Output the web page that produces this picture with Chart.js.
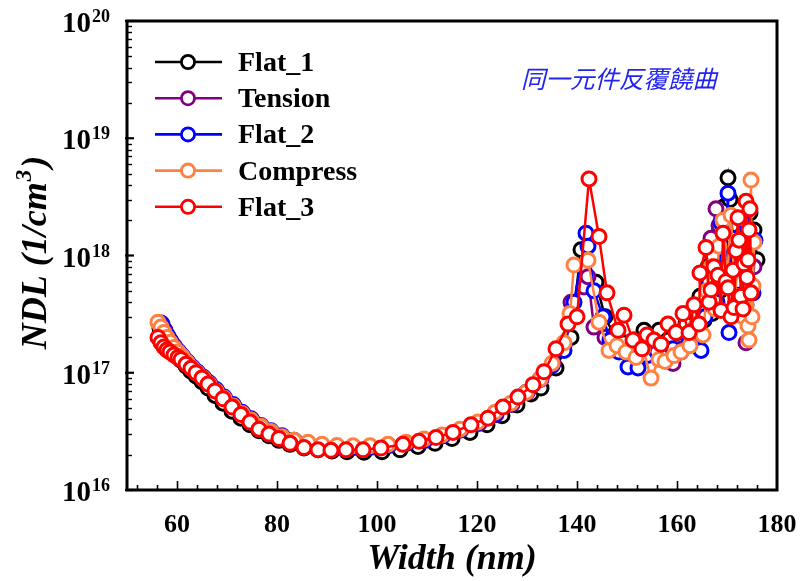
<!DOCTYPE html>
<html>
<head>
<meta charset="utf-8">
<script src="https://cdn.jsdelivr.net/npm/chart.js@4.4.1/dist/chart.umd.min.js"></script>
<style>
  html, body { margin: 0; padding: 0; background: #fff; }
  #wrap { width: 801px; height: 581px; position: relative; }
</style>
</head>
<body>
<div id="wrap"><canvas id="ndl"></canvas></div>
<script>
// NDL vs. depletion width, same device bent repeatedly
const seriesNames = ["Flat_1", "Tension", "Flat_2", "Compress", "Flat_3"];
const seriesColors = ["#000000", "#800080", "#0000ff", "#ff8040", "#ff0000"];

const flat1W = [56.6,57.2,57.8,58.4,59.2,60.0,60.8,61.8,62.8,63.8,65.0,66.2,67.6,69.2,71.0,72.8,74.6,76.4,78.4,80.4,82.6,85.4,88.2,91.0,94.0,97.4,101.0,104.6,108.2,111.6,115.0,118.6,122.0,125.0,128.0,130.8,132.8,135.8,138.8,140.8,143.8,145.6,147.4,149.4,151.4,153.4,155.2,156.4,158.2,160.0,161.8,163.4,164.6,165.4,166.2,167.0,167.8,168.6,169.4,170.2,170.6,171.4,172.2,173.0,173.8,174.6,175.4,176.0];
const flat1N = [2.4e17,2.1e17,1.85e17,1.68e17,1.52e17,1.40e17,1.28e17,1.14e17,1.03e17,9.4e16,8.4e16,7.4e16,6.4e16,5.5e16,4.7e16,4.1e16,3.6e16,3.2e16,2.9e16,2.65e16,2.45e16,2.28e16,2.2e16,2.15e16,2.12e16,2.1e16,2.12e16,2.2e16,2.35e16,2.5e16,2.75e16,3.1e16,3.6e16,4.3e16,5.3e16,6.6e16,7.4e16,1.1e17,2.0e17,1.12e18,5.9e17,3.0e17,2.1e17,1.8e17,1.9e17,2.3e17,2.0e17,2.3e17,1.9e17,2.2e17,2.6e17,3.4e17,4.5e17,2.8e17,8.0e17,3.2e17,1.2e18,5.0e17,2.6e18,4.6e18,3.0e18,1.0e18,6.0e17,1.5e18,3.8e17,2.3e18,1.65e18,9.2e17];

const tensionW = [57.0,57.6,58.2,58.8,59.6,60.4,61.2,62.2,63.2,64.2,65.4,66.6,68.0,69.6,71.4,73.2,75.0,77.0,79.0,81.2,83.6,86.4,89.2,92.2,95.4,98.8,102.4,106.0,109.6,113.2,116.8,120.4,123.8,127.0,130.0,132.8,135.2,137.4,138.8,141.4,142.2,143.4,145.6,147.6,149.6,151.6,153.6,155.4,157.2,159.2,161.0,162.6,164.0,165.2,166.0,166.8,167.8,168.4,169.2,170.0,171.0,171.8,172.8,173.6,173.8,174.8,175.4];
const tensionN = [2.6e17,2.3e17,2.05e17,1.85e17,1.65e17,1.5e17,1.37e17,1.22e17,1.1e17,1.0e17,9.0e16,8.0e16,7.0e16,6.0e16,5.2e16,4.5e16,3.95e16,3.45e16,3.1e16,2.8e16,2.6e16,2.45e16,2.35e16,2.3e16,2.3e16,2.32e16,2.4e16,2.5e16,2.65e16,2.9e16,3.25e16,3.7e16,4.4e16,5.4e16,6.8e16,8.8e16,1.2e17,1.7e17,4.0e17,5.4e17,6.6e17,2.45e17,2.0e17,1.7e17,1.5e17,1.45e17,1.6e17,1.5e17,1.45e17,1.2e17,1.6e17,2.0e17,2.4e17,3.5e17,6.0e17,1.4e18,2.5e18,1.8e18,9.0e17,5.5e17,1.2e18,4.0e17,8.0e17,3.0e17,1.8e17,5.5e17,8.0e17];

const flat2W = [56.8,57.4,58.0,58.6,59.4,60.2,61.0,62.0,63.0,64.0,65.2,66.4,67.8,69.4,71.2,73.0,74.8,76.8,78.8,81.0,83.4,86.2,89.0,92.0,95.2,98.6,102.2,105.8,109.4,113.0,116.6,120.2,123.6,126.8,129.8,132.6,135.0,137.4,139.4,141.8,142.2,143.4,145.2,146.6,148.4,150.2,152.2,154.0,156.0,157.8,159.2,160.8,162.4,163.6,164.8,165.6,166.4,167.2,168.0,168.8,169.6,170.2,170.4,171.2,172.0,173.0,173.8,174.6,175.2,175.6];
const flat2N = [2.65e17,2.35e17,2.1e17,1.9e17,1.7e17,1.53e17,1.4e17,1.25e17,1.12e17,1.02e17,9.2e16,8.2e16,7.2e16,6.2e16,5.35e16,4.6e16,4.05e16,3.55e16,3.2e16,2.9e16,2.65e16,2.5e16,2.4e16,2.35e16,2.32e16,2.33e16,2.4e16,2.5e16,2.65e16,2.9e16,3.25e16,3.75e16,4.4e16,5.4e16,6.8e16,8.8e16,1.15e17,1.55e17,4.0e17,1.55e18,1.2e18,5.0e17,3.0e17,1.9e17,1.5e17,1.12e17,1.1e17,1.4e17,1.5e17,1.6e17,1.6e17,1.5e17,2.0e17,2.4e17,1.55e17,3.0e17,6.0e17,1.0e18,4.0e17,1.9e18,8.0e17,3.4e18,2.2e17,1.4e18,6.0e17,2.0e18,9.0e17,1.4e18,4.8e17,1.35e18];

const compressW = [56.2,56.8,57.4,58.0,58.6,59.4,60.2,61.0,62.0,63.0,64.0,65.2,66.4,67.8,69.4,71.2,73.0,74.8,76.8,78.8,81.0,83.4,86.2,89.0,92.0,95.2,98.6,102.2,105.8,109.4,113.0,116.6,120.2,123.6,126.8,129.8,132.6,135.0,137.4,138.6,139.4,142.2,144.4,146.4,148.0,149.8,151.8,153.2,154.8,156.4,157.6,159.4,160.8,162.6,164.0,165.2,166.0,166.8,167.6,168.4,169.2,170.0,170.8,171.6,172.4,173.2,173.8,174.2,174.4,174.8,175.0,175.2,175.4];
const compressN = [2.7e17,2.45e17,2.2e17,2.0e17,1.82e17,1.64e17,1.5e17,1.38e17,1.23e17,1.1e17,1.0e17,9.0e16,8.0e16,7.0e16,6.05e16,5.2e16,4.5e16,3.95e16,3.5e16,3.15e16,2.85e16,2.65e16,2.55e16,2.45e16,2.4e16,2.38e16,2.38e16,2.45e16,2.55e16,2.72e16,2.95e16,3.3e16,3.8e16,4.6e16,5.5e16,6.8e16,8.8e16,1.2e17,1.8e17,3.2e17,8.3e17,9.1e17,2.7e17,1.55e17,1.7e17,1.5e17,1.35e17,1.6e17,9.0e16,1.3e17,1.25e17,1.4e17,1.5e17,1.7e17,2.6e17,2.1e17,5.0e17,8.0e17,3.5e17,1.2e18,2.0e18,6.0e17,2.2e18,4.5e17,1.1e18,3.0e17,7.5e17,2.5e17,1.9e17,4.4e18,3.0e17,5.5e17,1.3e18];

const flat3W = [56.2,56.8,57.4,58.0,58.6,59.4,60.2,60.8,61.8,62.8,63.8,65.0,66.2,67.6,69.2,71.0,72.8,74.6,76.4,78.4,80.4,82.6,85.4,88.2,90.8,93.8,97.2,100.8,105.2,108.4,111.8,115.2,118.8,122.2,125.2,128.2,131.2,133.4,135.8,138.2,140.0,142.4,144.4,146.0,148.2,149.4,151.2,153.0,154.0,155.4,156.8,158.2,159.8,161.2,162.4,163.4,164.4,164.6,165.8,166.4,166.8,167.4,168.2,168.8,169.2,169.8,170.2,170.8,171.2,171.4,171.8,172.2,172.4,172.8,173.2,173.4,173.8,174.0,174.2,174.4,174.6,174.8];
const flat3N = [2.0e17,1.8e17,1.66e17,1.56e17,1.5e17,1.42e17,1.35e17,1.3e17,1.18e17,1.09e17,1.0e17,9.0e16,8.0e16,7.0e16,6.0e16,5.1e16,4.4e16,3.8e16,3.3e16,3.0e16,2.75e16,2.5e16,2.3e16,2.2e16,2.18e16,2.2e16,2.2e16,2.28e16,2.45e16,2.6e16,2.8e16,3.1e16,3.6e16,4.1e16,5.1e16,6.2e16,7.9e16,1.02e17,1.6e17,2.6e17,3.0e17,4.5e18,1.45e18,4.8e17,2.3e17,3.1e17,1.9e17,1.6e17,2.1e17,1.9e17,1.75e17,2.6e17,2.2e17,3.2e17,2.2e17,3.8e17,2.6e17,7.1e17,1.17e18,4.0e17,5.1e17,8.0e17,6.8e17,3.4e17,1.55e18,6.0e17,5.3e17,3.0e17,7.5e17,3.6e17,1.1e18,2.1e18,1.35e18,4.5e17,3.5e17,8.5e17,2.9e18,6.5e17,9.2e17,1.65e18,2.5e18,4.8e17];

const xTickValues = [60, 80, 100, 120, 140, 160, 180];
const yTickExps = [16, 17, 18, 19, 20];

const widths = [flat1W, tensionW, flat2W, compressW, flat3W];
const ndls = [flat1N, tensionN, flat2N, compressN, flat3N];

const serif = "'Liberation Serif', 'Times New Roman', serif";

function seg(ctx, x1, y1, x2, y2) {
  ctx.beginPath();
  ctx.moveTo(x1, y1);
  ctx.lineTo(x2, y2);
  ctx.stroke();
}

// axes frame, inward ticks, tick labels and axis titles
const framePlugin = {
  id: 'framePlugin',
  afterDraw(chart) {
    const { ctx, chartArea: a, scales } = chart;
    const x = scales.x, y = scales.y;
    ctx.save();
    ctx.strokeStyle = '#000';
    ctx.fillStyle = '#000';

    // left axis: log minor and major ticks
    ctx.lineWidth = 1.4;
    for (let e = 16; e < 20; e++) {
      for (let m = 2; m <= 9; m++) {
        const py = Math.round(y.getPixelForValue(m * Math.pow(10, e))) + 0.5;
        seg(ctx, a.left, py, a.left + 5, py);
      }
    }
    ctx.lineWidth = 2.2;
    yTickExps.forEach(e => {
      const py = y.getPixelForValue(Math.pow(10, e));
      seg(ctx, a.left - 2, py, a.left + 7, py);
    });

    // bottom axis: minor every 4, major every 20
    ctx.lineWidth = 1.6;
    for (let v = 52; v < 180; v += 4) {
      const px = Math.round(x.getPixelForValue(v)) + 0.5;
      const major = xTickValues.includes(v);
      seg(ctx, px, a.bottom, px, a.bottom - (major ? 9 : 5));
    }

    // frame
    ctx.lineWidth = 3;
    ctx.strokeRect(a.left, a.top, a.right - a.left, a.bottom - a.top);

    // y tick labels 10^n
    ctx.textBaseline = 'alphabetic';
    yTickExps.forEach(e => {
      const py = y.getPixelForValue(Math.pow(10, e));
      ctx.font = 'bold 18px ' + serif;
      const sup = String(e);
      const supW = ctx.measureText(sup).width;
      ctx.textAlign = 'left';
      ctx.fillText(sup, 110 - supW, py + 1);
      ctx.font = 'bold 29px ' + serif;
      ctx.textAlign = 'right';
      ctx.fillText('10', 110 - supW - 1, py + 11);
    });

    // x tick labels
    ctx.font = 'bold 26px ' + serif;
    ctx.textAlign = 'center';
    xTickValues.forEach(v => {
      ctx.fillText(String(v), x.getPixelForValue(v), a.bottom + 42);
    });

    // x title
    ctx.font = 'italic bold 36px ' + serif;
    ctx.fillText('Width (nm)', (a.left + a.right) / 2, 569);

    // y title with superscript
    ctx.save();
    ctx.translate(46, 254);
    ctx.rotate(-Math.PI / 2);
    const big = 'italic bold 36px ' + serif;
    const small = 'italic bold 23px ' + serif;
    ctx.font = big;
    const p1 = 'NDL (1/cm', p3 = ')';
    const w1 = ctx.measureText(p1).width, w3 = ctx.measureText(p3).width;
    ctx.font = small;
    const w2 = ctx.measureText('3').width;
    let sx = -(w1 + w2 + w3) / 2;
    ctx.textAlign = 'left';
    ctx.font = big;
    ctx.fillText(p1, sx, 0);
    ctx.font = small;
    ctx.fillText('3', sx + w1 + 1, -15);
    ctx.font = big;
    ctx.fillText(p3, sx + w1 + w2 + 3, 0);
    ctx.restore();

    // annotation
    ctx.font = "italic 24.5px 'Noto Sans CJK TC', 'Noto Sans CJK SC', sans-serif";
    ctx.fillStyle = '#2323f0';
    ctx.textAlign = 'left';
    ctx.fillText('同一元件反覆饒曲', 521, 88);

    ctx.restore();
  }
};

// legend drawn inside the plot, top-left
const legendPlugin = {
  id: 'legendPlugin',
  afterDraw(chart) {
    const ctx = chart.ctx;
    ctx.save();
    chart.data.datasets.forEach((ds, i) => {
      const yy = 62 + i * 36.2;
      ctx.strokeStyle = ds.borderColor;
      ctx.lineWidth = 2.6;
      seg(ctx, 155, yy, 222, yy);
      ctx.beginPath();
      ctx.arc(188, yy, 6.6, 0, Math.PI * 2);
      ctx.fillStyle = '#fff';
      ctx.fill();
      ctx.lineWidth = 2.8;
      ctx.stroke();
      ctx.fillStyle = '#000';
      ctx.font = 'bold 28px ' + serif;
      ctx.textAlign = 'left';
      ctx.textBaseline = 'alphabetic';
      ctx.fillText(ds.label, 238, yy + 9);
    });
    ctx.restore();
  }
};

const datasets = seriesNames.map((name, i) => ({
  label: name,
  data: widths[i].map((w, k) => ({ x: w, y: ndls[i][k] })),
  showLine: true,
  borderColor: seriesColors[i],
  borderWidth: 2.5,
  pointRadius: 7,
  pointBorderWidth: 3,
  pointBackgroundColor: '#ffffff',
  pointBorderColor: seriesColors[i],
  tension: 0,
  // Flat_3 on top, Flat_1 at the bottom
  order: seriesNames.length - 1 - i
}));

new Chart(document.getElementById('ndl'), {
  type: 'scatter',
  data: { datasets: datasets },
  options: {
    responsive: true,
    maintainAspectRatio: false,
    animation: false,
    layout: { padding: { left: 127, top: 21, right: 24, bottom: 91 } },
    plugins: {
      legend: { display: false },
      tooltip: { enabled: false }
    },
    scales: {
      x: { type: 'linear', min: 50, max: 180, display: false },
      y: { type: 'logarithmic', min: 1e16, max: 1e20, display: false }
    }
  },
  plugins: [framePlugin, legendPlugin]
});
</script>
</body>
</html>
